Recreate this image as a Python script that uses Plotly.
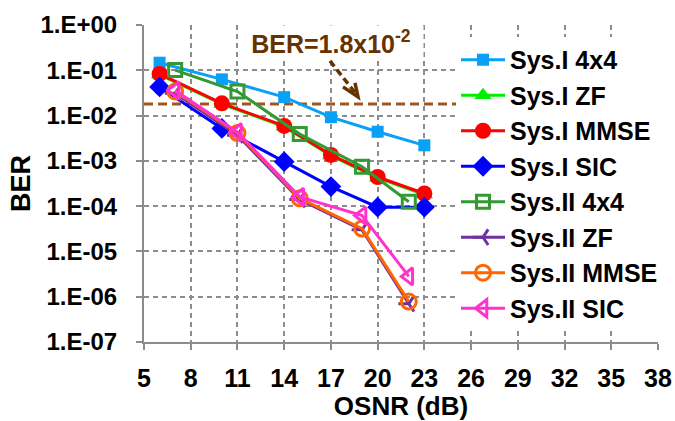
import plotly.graph_objects as go

# ---------------- data ----------------
sys1_x = [6, 10, 14, 17, 20, 23]
sys1_4x4 = [0.147, 0.063, 0.0255, 0.0092, 0.0044, 0.0022]
sys1_zf = [0.080, 0.018, 0.0057, 0.0013, 0.00042, 0.00018]
sys1_mmse = [0.083, 0.0186, 0.0059, 0.00135, 0.00044, 0.00019]
sys1_sic = [0.043, 0.0052, 0.00096, 0.00027, 0.000095, 0.000095]

sys2_x = [7, 11, 15, 19, 22]
sys2_4x4 = [0.101, 0.034, 0.0039, 0.00074, 0.000125]
sys2_zf = [0.031, 0.0037, 0.00014, 0.00003, 7.0e-7]
sys2_mmse = [0.034, 0.0041, 0.000149, 0.000032, 7.8e-7]
sys2_sic = [0.036, 0.0043, 0.00016, 0.000062, 2.8e-6]

ber_threshold = 1.8e-2
threshold_x = [5, 38]

x_ticks = [5, 8, 11, 14, 17, 20, 23, 26, 29, 32, 35, 38]
y_tickvals = [1, 1e-1, 1e-2, 1e-3, 1e-4, 1e-5, 1e-6, 1e-7]
y_ticktext = ["1.E+00", "1.E-01", "1.E-02", "1.E-03", "1.E-04", "1.E-05", "1.E-06", "1.E-07"]

# ---------------- layout geometry (px) ----------------
W, H = 675, 421
L, R, T, B = 144, 17, 25, 78.5
PW, PH = W - L - R, H - T - B

def px(x):
    return (x - L) / PW

def py(y):
    return 1 - (y - T) / PH

FONT = "Liberation Sans, Arial, sans-serif"
GRID = "#8C8C8C"

fig = go.Figure()

fig.add_trace(go.Scatter(
    x=threshold_x, y=[ber_threshold] * len(threshold_x), mode="lines",
    line=dict(color="#A0561E", width=3, dash="9px,5px"),
    showlegend=False, hoverinfo="skip"))

series = [
    ("Sys.I 4x4", sys1_x, sys1_4x4, "#0AA0F5", "square", 12, 0),
    ("Sys.I ZF", sys1_x, sys1_zf, "#00EE00", "triangle-up", 15, 0),
    ("Sys.I MMSE", sys1_x, sys1_mmse, "#FF0000", "circle", 16, 0),
    ("Sys.I SIC", sys1_x, sys1_sic, "#0000FF", "diamond", 16, 0),
    ("Sys.II 4x4", sys2_x, sys2_4x4, "#339933", "square-open", 13, 3),
    ("Sys.II ZF", sys2_x, sys2_zf, "#7030A0", "y-left-open", 13, 3),
    ("Sys.II MMSE", sys2_x, sys2_mmse, "#FF6600", "circle-open", 15, 3),
    ("Sys.II SIC", sys2_x, sys2_sic, "#FF33CC", "triangle-left-open", 15, 3),
]
for name, xs, ys, col, sym, size, lw in series:
    mk = dict(symbol=sym, size=size, color=col)
    if lw:
        mk["line"] = dict(color=col, width=lw)
    else:
        mk["line"] = dict(width=0)
    fig.add_trace(go.Scatter(x=xs, y=ys, name=name, mode="lines+markers",
                             line=dict(color=col, width=3), marker=mk))

fig.update_xaxes(
    range=[5, 38], tickvals=x_ticks, showgrid=True, gridcolor=GRID, griddash="5px,4px",
    gridwidth=1.5, showline=True, linecolor=GRID, linewidth=2, ticks="outside",
    ticklen=6, tickcolor=GRID, tickwidth=1.5, zeroline=False, automargin=False,
    tickfont=dict(family=FONT, size=25, color="black", weight="bold"),
    ticklabelstandoff=7,
    title=dict(text="OSNR (dB)", font=dict(family=FONT, size=26, color="black", weight="bold"),
               standoff=13))
fig.update_yaxes(
    type="log", range=[-7, 0], tickvals=y_tickvals, ticktext=y_ticktext,
    showgrid=True, gridcolor=GRID, griddash="5px,4px", gridwidth=1.5,
    showline=True, linecolor=GRID, linewidth=2, ticks="outside", ticklen=6,
    tickcolor=GRID, tickwidth=1.5, zeroline=False, automargin=False,
    tickfont=dict(family=FONT, size=24, color="black", weight="bold"),
    ticklabelstandoff=14,
    title=dict(text="BER", font=dict(family=FONT, size=27, color="black", weight="bold"),
               standoff=2))

# annotation text box
fig.add_annotation(
    xref="paper", yref="paper", x=px(331), y=py(42), xanchor="center", yanchor="middle",
    text="BER=1.8x10<sup>-2</sup>", showarrow=False, bgcolor="white",
    width=182, height=30,
    font=dict(family=FONT, size=25, color="#663300", weight="bold"))
# dashed arrow shaft and head
fig.add_shape(type="line", xref="paper", yref="paper",
              x0=px(330), y0=py(61), x1=px(356), y1=py(94),
              line=dict(color="#663300", width=3.5, dash="7px,4px"))
fig.add_shape(type="path", xref="paper", yref="paper",
              path=f"M {px(343)},{py(87)} L {px(358)},{py(97)} L {px(355)},{py(83)}",
              line=dict(color="#663300", width=3.5))

fig.update_layout(
    width=W, height=H, margin=dict(l=L, r=R, t=T, b=B, autoexpand=False),
    paper_bgcolor="white", plot_bgcolor="white",
    showlegend=True,
    legend=dict(x=px(456), y=py(37), xanchor="left", yanchor="top",
                bgcolor="white", borderwidth=0, itemwidth=44,
                font=dict(family=FONT, size=25, color="black", weight="bold"),
                tracegroupgap=0),
)

fig.write_html("out.html")
